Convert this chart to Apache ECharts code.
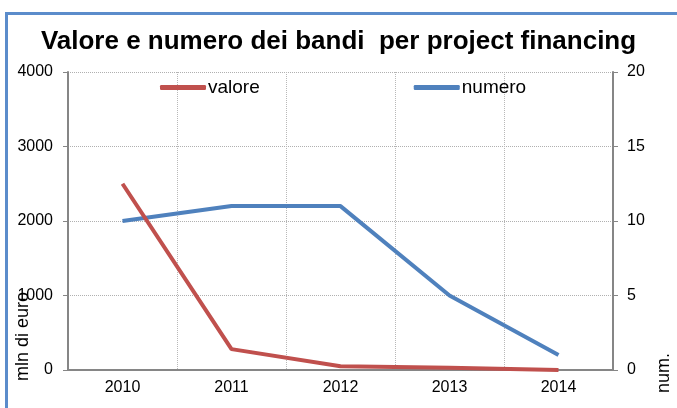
<!DOCTYPE html>
<html>
<head>
<meta charset="utf-8">
<script src="https://cdn.jsdelivr.net/npm/echarts@6/dist/echarts.min.js"></script>
<style>
  html, body { margin: 0; padding: 0; background: #fff; }
  #chart { width: 677px; height: 408px; }
</style>
</head>
<body>
<div id="chart"></div>
<script>
// dati
const anni = ['2010', '2011', '2012', '2013', '2014'];
const valore = [2500, 280, 50, 30, 0];   // mln di euro
const numero = [10, 11, 11, 5, 1];       // num.

const chart = echarts.init(document.getElementById('chart'));

const FONT = 'Liberation Sans, Arial, sans-serif';
const labelFont = { fontFamily: FONT, fontSize: 16, color: '#000' };

chart.setOption({
  backgroundColor: '#fff',
  animation: false,
  title: {
    text: 'Valore e numero dei bandi  per project financing',
    left: 'center',
    top: 24,
    textStyle: { fontFamily: FONT, fontSize: 26, fontWeight: 'bold', color: '#000' }
  },
  graphic: [
    // cornice blu della slide
    { type: 'rect', shape: { x: 5, y: 12, width: 3, height: 396 }, style: { fill: '#5b8ccb' }, silent: true },
    { type: 'rect', shape: { x: 5, y: 12, width: 672, height: 3 }, style: { fill: '#5b8ccb' }, silent: true },
    // titoli degli assi (ruotati)
    { type: 'text', x: 23, y: 381, rotation: Math.PI / 2, z: 10,
      style: { text: 'mln di euro', font: '18px ' + FONT, fill: '#000', align: 'left', verticalAlign: 'middle' } },
    { type: 'text', x: 664, y: 393, rotation: Math.PI / 2, z: 10,
      style: { text: 'num.', font: '18px ' + FONT, fill: '#000', align: 'left', verticalAlign: 'middle' } }
  ],
  legend: {
    left: 160,
    top: 78,
    padding: 0,
    itemWidth: 46,
    itemHeight: 5,
    itemGap: 154,
    icon: 'roundRect',
    textStyle: { fontFamily: FONT, fontSize: 19, color: '#000', padding: [0, 0, 0, -3] },
    data: ['valore', 'numero']
  },
  grid: { left: 68, right: 64, top: 72, bottom: 38, outerBoundsMode: 'none' },
  xAxis: {
    type: 'category',
    data: anni,
    boundaryGap: true,
    axisLine: { lineStyle: { color: '#868686', width: 2 } },
    axisTick: { length: 5, lineStyle: { color: '#868686' } },
    axisLabel: Object.assign({ margin: 10 }, labelFont),
    splitLine: { show: true, lineStyle: { color: '#b8b8b8', type: 'dotted', width: 1 } }
  },
  yAxis: [
    {
      type: 'value',
      min: 0, max: 4000, interval: 1000,
      axisLine: { show: true, lineStyle: { color: '#868686', width: 2 } },
      axisTick: { show: true, length: 5, lineStyle: { color: '#868686' } },
      axisLabel: Object.assign({ margin: 15, formatter: v => String(v) }, labelFont),
      splitLine: { show: true, lineStyle: { color: '#b0b0b0', type: 'dotted', width: 1 } }
    },
    {
      type: 'value',
      min: 0, max: 20, interval: 5,
      position: 'right',
      axisLine: { show: true, lineStyle: { color: '#868686', width: 2 } },
      axisTick: { show: true, length: 5, lineStyle: { color: '#868686' } },
      axisLabel: Object.assign({ margin: 14, formatter: v => String(v) }, labelFont),
      splitLine: { show: false }
    }
  ],
  series: [
    {
      name: 'valore',
      type: 'line',
      yAxisIndex: 0,
      data: valore,
      symbol: 'none',
      lineStyle: { color: '#c0504d', width: 4 },
      itemStyle: { color: '#c0504d' },
      z: 3
    },
    {
      name: 'numero',
      type: 'line',
      yAxisIndex: 1,
      data: numero,
      symbol: 'none',
      lineStyle: { color: '#4f81bd', width: 4 },
      itemStyle: { color: '#4f81bd' },
      z: 2
    }
  ]
});
</script>
</body>
</html>
